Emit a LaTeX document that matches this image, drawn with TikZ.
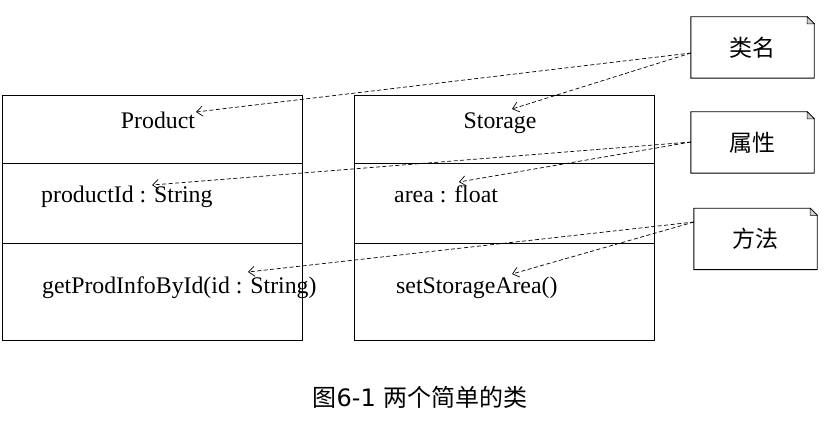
\documentclass[tikz,border=0pt]{standalone}
\usepackage{fontspec}
\setmainfont{Liberation Serif}
\newfontfamily\cjk{Noto Sans CJK SC}
\newfontfamily\capfont{DejaVu Sans}
\usetikzlibrary{arrows.meta}
\begin{document}
\begin{tikzpicture}[x=1pt,y=-1pt,
  classbox/.style={draw,line width=0.9pt,minimum width=300pt,minimum height=245pt,inner sep=0pt},
  membertext/.style={font=\fontsize{23.8}{28}\selectfont,inner sep=0pt,anchor=base west},
  titletext/.style={font=\fontsize{23.8}{28}\selectfont,inner sep=0pt,anchor=base},
  notebox/.style={minimum width=123pt,minimum height=61pt,inner sep=0pt,font=\cjk\fontsize{23}{27}\selectfont},
  sep/.style={line width=0.9pt},
  dasharrow/.style={dashed,dash pattern=on 4pt off 2.5pt,line width=0.7pt,-{Straight Barb[length=6pt,width=10pt,line width=0.7pt]}}
]
\useasboundingbox (0,0) rectangle (839,427);
% class boxes
\node[classbox] (P) at (152,217.5) {};
\node[classbox] (S) at (504,217.5) {};
\draw[sep] (P.west |- 0,163) -- (P.east |- 0,163);
\draw[sep] (P.west |- 0,243) -- (P.east |- 0,243);
\draw[sep] (S.west |- 0,163) -- (S.east |- 0,163);
\draw[sep] (S.west |- 0,243) -- (S.east |- 0,243);
% texts
\node[titletext] (pn) at (158,129) {Product};
\node[titletext] (sn) at (500,129) {Storage};
\node[membertext] (pa) at (41,203) {productId : String};
\node[membertext] (pm) at (42,294) {getProdInfoById(id : String)};
\node[membertext] (sa) at (394,203) {area : float};
\node[membertext] (sm) at (396,294) {setStorageArea()};
% notes
\node[notebox] (n1) at (752.5,47.5) {类名};
\node[notebox] (n2) at (752.5,142.5) {属性};
\node[notebox] (n3) at (755.5,239) {方法};
\foreach \n in {n1,n2,n3}{
  \draw[line width=0.9pt] (\n.north west) -- ([xshift=-7pt]\n.north east) -- ([yshift=-7pt]\n.north east) -- (\n.south east) -- (\n.south west) -- cycle;
  \draw[line width=0.5pt,fill=gray!40] ([xshift=-7pt]\n.north east) -- ([xshift=-7pt,yshift=-7pt]\n.north east) -- ([yshift=-7pt]\n.north east) -- cycle;
}
% connector ends
\coordinate (s1) at (691,53);
\coordinate (s2) at (691,142);
\coordinate (s3) at (694,222);
\coordinate (t1a) at (196,112);
\coordinate (t1b) at (512,109);
\coordinate (t2a) at (152,185);
\coordinate (t2b) at (459,182);
\coordinate (t3a) at (248,272);
\coordinate (t3b) at (512,274);
\draw[dasharrow] (s1) -- (t1a);
\draw[dasharrow] (s1) -- (t1b);
\draw[dasharrow] (s2) -- (t2a);
\draw[dasharrow] (s2) -- (t2b);
\draw[dasharrow] (s3) -- (t3a);
\draw[dasharrow] (s3) -- (t3b);
% caption
\node[inner sep=0pt,anchor=base] (cap) at (420,407) {\fontsize{24}{28}\selectfont\cjk 图\capfont 6-1 \cjk 两个简单的类};
\end{tikzpicture}
\end{document}
